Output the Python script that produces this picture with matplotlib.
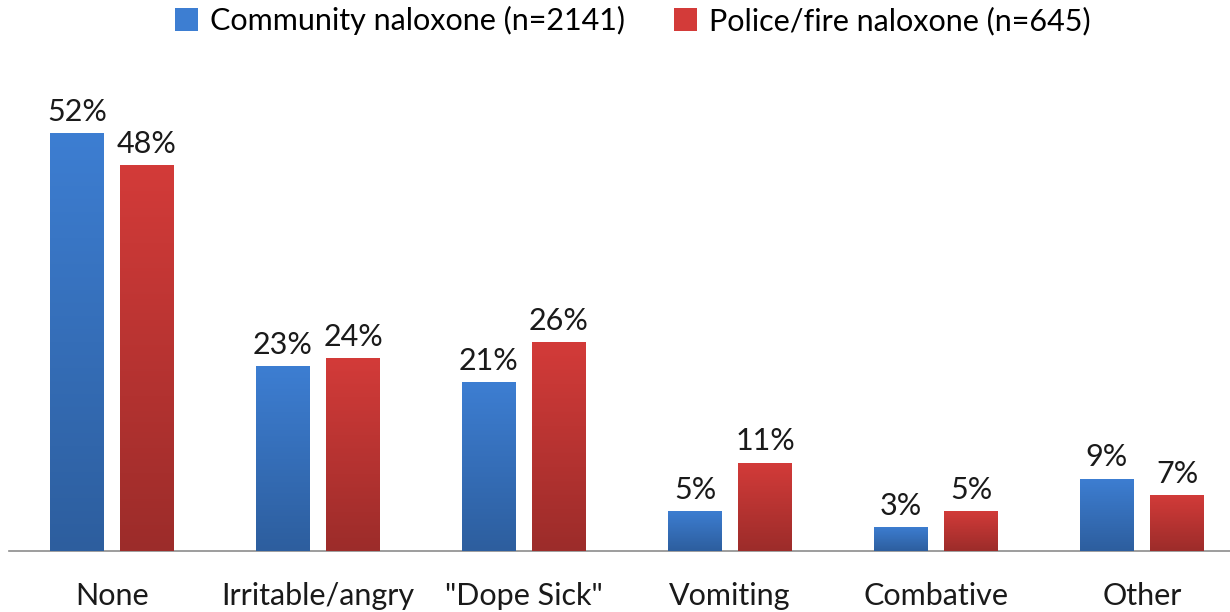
import matplotlib
matplotlib.use("Agg")
import matplotlib.pyplot as plt
import numpy as np
from matplotlib.patches import Patch
from matplotlib.colors import LinearSegmentedColormap

plt.rcParams['font.family'] = ['Lato', 'DejaVu Sans']

categories = ["None", "Irritable/angry", "\"Dope Sick\"", "Vomiting", "Combative", "Other"]
community = [52, 23, 21, 5, 3, 9]
police = [48, 24, 26, 11, 5, 7]
series_names = ["Community naloxone (n=2141)", "Police/fire naloxone (n=645)"]

blue_top, blue_bot = "#3D7ED2", "#2D5E9E"
red_top, red_bot = "#D33B39", "#9C2C2A"

fig = plt.figure(figsize=(12.3, 6.12), dpi=100)
ax = fig.add_axes([9/1230, 61/612, 6*206/1230, 482/612])
ax.set_xlim(-0.5, 5.5)
ax.set_ylim(0, 60)

x = np.arange(len(categories))
w = 0.262
off = 0.170

def grad_bars(xs, vals, top, bot):
    bars = ax.bar(xs, vals, width=w, color=top, edgecolor='none', zorder=2)
    cmap = LinearSegmentedColormap.from_list("g", [bot, top])
    grad = np.linspace(0, 1, 256).reshape(-1, 1)
    for b in bars:
        x0, y0 = b.get_x(), b.get_y()
        im = ax.imshow(grad, cmap=cmap, aspect='auto', origin='lower',
                       extent=[x0, x0 + b.get_width(), y0, y0 + b.get_height()],
                       zorder=3)
        im.set_clip_path(b)
    return bars

b1 = grad_bars(x - off, community, blue_top, blue_bot)
b2 = grad_bars(x + off, police, red_top, red_bot)
ax.set_xlim(-0.5, 5.5)
ax.set_ylim(0, 60)

for bars, vals in ((b1, community), (b2, police)):
    for b, v in zip(bars, vals):
        ax.text(b.get_x() + b.get_width() / 2, v + 0.9, f"{v}%",
                ha='center', va='bottom', fontsize=22, color='#1a1a1a', zorder=4)

for s in ['top', 'right', 'left']:
    ax.spines[s].set_visible(False)
ax.spines['bottom'].set_color('#8c8c8c')
ax.spines['bottom'].set_linewidth(1.2)
ax.set_yticks([])
ax.set_xticks(x)
ax.set_xticklabels(categories, fontsize=22, color='#1a1a1a')
ax.tick_params(axis='x', length=0, pad=22)

handles = [Patch(facecolor=blue_top, edgecolor='none'), Patch(facecolor=red_top, edgecolor='none')]
fig.legend(handles, series_names, loc='upper center', bbox_to_anchor=(633/1230, 1.035),
           ncol=2, frameon=False, fontsize=22, handlelength=0.75, handleheight=0.75,
           handletextpad=0.4, columnspacing=1.6)

fig.savefig("out.png", dpi=100)
